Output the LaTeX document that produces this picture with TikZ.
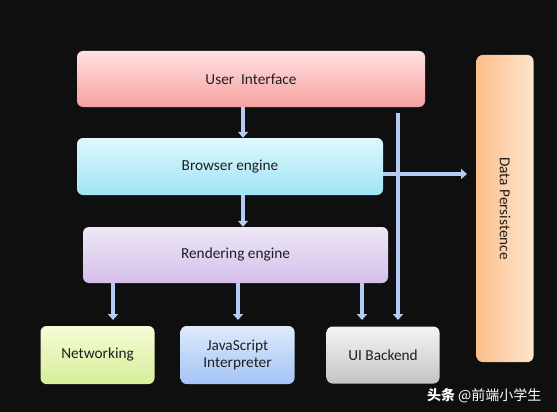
\documentclass[tikz,border=0pt]{standalone}
\usepackage{fontspec}
\setmainfont{Carlito}
\newfontfamily\cjk{Noto Sans CJK SC}
\usetikzlibrary{arrows.meta,shadings}
\definecolor{bg}{HTML}{0F0F0F}
\definecolor{arr}{HTML}{B4CCF4}
\tikzset{
  x=1pt,y=-1pt,
  box/.style={rounded corners=6pt, inner sep=0pt, font=\fontsize{15.3}{17}\selectfont, text=black!88, align=center, draw=none},
  link/.style={draw=arr, line width=4.5pt, -{Triangle[length=6pt,width=10pt]}},
}
\begin{document}
\begin{tikzpicture}
\fill[bg] (0,0) rectangle (557,412);
\useasboundingbox (0,0) rectangle (557,412);
% boxes
\node[box, top color=red!12!white, bottom color={rgb,255:red,246;green,160;blue,160}, minimum width=348pt, minimum height=56pt] (ui) at (251,79) {User\ \ Interface};
\node[box, top color={rgb,255:red,222;green,248;blue,253}, bottom color={rgb,255:red,160;green,228;blue,246}, minimum width=306pt, minimum height=57pt] (be) at (230,166.5) {Browser engine};
\node[box, top color={rgb,255:red,238;green,232;blue,246}, bottom color={rgb,255:red,212;green,190;blue,234}, minimum width=305pt, minimum height=56pt] (re) at (235.5,255) {Rendering engine};
\node[box, top color={rgb,255:red,246;green,252;blue,214}, bottom color={rgb,255:red,214;green,238;blue,152}, minimum width=114pt, minimum height=58pt] (net) at (97.5,355) {Networking};
\node[box, top color={rgb,255:red,222;green,234;blue,252}, bottom color={rgb,255:red,164;green,196;blue,246}, minimum width=114pt, minimum height=58pt] (js) at (237.5,355) {JavaScript\\Interpreter};
\node[box, top color={rgb,255:red,244;green,244;blue,244}, bottom color={rgb,255:red,196;green,196;blue,196}, minimum width=113pt, minimum height=57pt] (uib) at (383,355) {UI Backend};
\node[box, left color={rgb,255:red,252;green,190;blue,138}, right color={rgb,255:red,253;green,228;blue,206}, minimum width=57pt, minimum height=307pt] (dp) at (505,208.5) {};
\node[rotate=-90, font=\fontsize{15.3}{17}\selectfont, text=black!88] (dpt) at (dp.center) {Data Persistence};
% connectors
\coordinate (vtop) at (398,113);
\coordinate (vbot) at (398,320);
\draw[link] (ui.south -| 243,0) -- (be.north -| 243,0);
\draw[link] (be.south -| 243,0) -- (re.north -| 243,0);
\draw[link] (re.south -| 113,0) -- (113,320);
\draw[link] (re.south -| 238,0) -- (238,320);
\draw[link] (re.south -| 362,0) -- (362,320);
\draw[link] (vtop) -- (vbot);
\draw[link] (be.east |- 0,174) -- (467,174);
% watermark
\node[text=white, font=\cjk\fontsize{14}{16}\selectfont, anchor=east] (wm) at (545,396) {\textbf{头条} @前端小学生};
\end{tikzpicture}
\end{document}
